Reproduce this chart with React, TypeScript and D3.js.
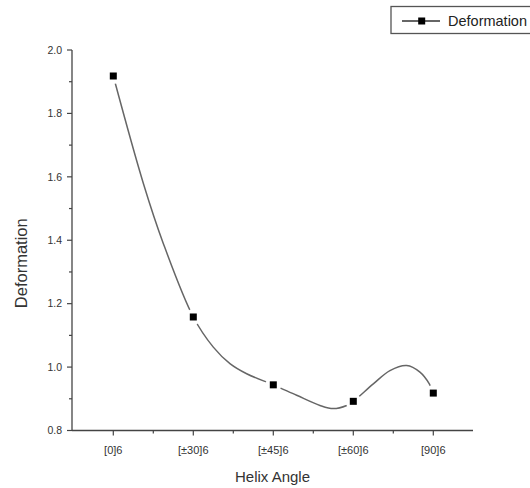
import React from "react";
import * as d3 from "d3";

const categories = ["[0]6", "[±30]6", "[±45]6", "[±60]6", "[90]6"];
const deformation = [1.918, 1.158, 0.944, 0.892, 0.918];

// smooth line as drawn in the picture (read at several positions along the category axis)
const curveX = [0, 0.375, 0.625, 1.0, 1.25, 1.458, 1.667, 2.0, 2.292, 2.583, 2.75, 2.917, 3.0, 3.25, 3.458, 3.667, 3.833, 3.95, 4.0];
const curveY = [1.918, 1.580, 1.390, 1.158, 1.063, 1.011, 0.979, 0.944, 0.911, 0.879, 0.869, 0.879, 0.892, 0.947, 0.989, 1.005, 0.984, 0.947, 0.918];

const yMajor = [0.8, 1.0, 1.2, 1.4, 1.6, 1.8, 2.0];
const yMinor = [0.9, 1.1, 1.3, 1.5, 1.7, 1.9];
const xMinor = [0.5, 1.5, 2.5, 3.5];

const FONT = "'Liberation Sans', Arial, sans-serif";

export default function App() {
  const W = 530, H = 488;
  const x = d3.scaleLinear().domain([-0.5, 4.5]).range([73.3, 473.3]);
  const y = d3.scaleLinear().domain([0.8, 2.0]).range([430.5, 50]);
  const axisColor = "#444";
  const textColor = "#333";

  const line = d3
    .line<number>()
    .x((_, i) => x(curveX[i]))
    .y((d) => y(d))
    .curve(d3.curveCatmullRom.alpha(0.5));

  const x0 = 72;
  const x1 = 473;
  const yAxis = y(0.8);

  return (
    <svg
      width={W}
      height={H}
      style={{ position: "absolute", left: 0, top: 0, background: "#fff" }}
      fontFamily={FONT}
    >
      <rect width={W} height={H} fill="#fff" />
      {/* curve */}
      <path d={line(curveY) || ""} fill="none" stroke="#666" strokeWidth={1.5} />
      {/* markers with gap */}
      {deformation.map((v, i) => (
        <g key={i}>
          <circle cx={x(i)} cy={y(v)} r={8} fill="#fff" />
          <rect x={x(i) - 3.5} y={y(v) - 3.5} width={7} height={7} fill="#000" />
        </g>
      ))}

      {/* y axis */}
      <line x1={x0} x2={x0} y1={y(2.0)} y2={yAxis} stroke={axisColor} strokeWidth={1.3} />
      {yMajor.map((t) => (
        <g key={"ym" + t}>
          <line x1={x0 - 5} x2={x0} y1={y(t)} y2={y(t)} stroke={axisColor} strokeWidth={1.2} />
          <text x={x0 - 10} y={y(t)} dy="0.35em" textAnchor="end" fontSize={10.5} fill={textColor}>
            {t.toFixed(1)}
          </text>
        </g>
      ))}
      {yMinor.map((t) => (
        <line key={"yn" + t} x1={x0 - 3} x2={x0} y1={y(t)} y2={y(t)} stroke={axisColor} strokeWidth={1.2} />
      ))}

      {/* x axis */}
      <line x1={x0} x2={x1} y1={yAxis} y2={yAxis} stroke={axisColor} strokeWidth={1.3} />
      {categories.map((c, i) => (
        <g key={c}>
          <line x1={x(i)} x2={x(i)} y1={yAxis} y2={yAxis + 5} stroke={axisColor} strokeWidth={1.2} />
          <text x={x(i)} y={yAxis + 20} dy="0.35em" textAnchor="middle" fontSize={11} fill={textColor}>
            {c}
          </text>
        </g>
      ))}
      {xMinor.map((t) => (
        <line key={"xn" + t} x1={x(t)} x2={x(t)} y1={yAxis} y2={yAxis + 3} stroke={axisColor} strokeWidth={1.2} />
      ))}

      {/* axis titles */}
      <text x={(x0 + x1) / 2} y={482} textAnchor="middle" fontSize={15} fill={textColor}>
        Helix Angle
      </text>
      <text
        transform={`translate(27, ${(y(2.0) + yAxis) / 2 + 23}) rotate(-90)`}
        textAnchor="middle"
        fontSize={16.5}
        fill={textColor}
      >
        Deformation
      </text>

      {/* legend */}
      <rect x={391} y={6.5} width={150} height={27} fill="#fff" stroke="#555" strokeWidth={1.3} />
      <line x1={402} x2={440} y1={21} y2={21} stroke="#333" strokeWidth={1.5} />
      <rect x={421.7 - 3.5} y={21 - 3.5} width={7} height={7} fill="#000" />
      <text x={448} y={21} dy="0.36em" fontSize={14.5} fill="#222">
        Deformation
      </text>
    </svg>
  );
}
